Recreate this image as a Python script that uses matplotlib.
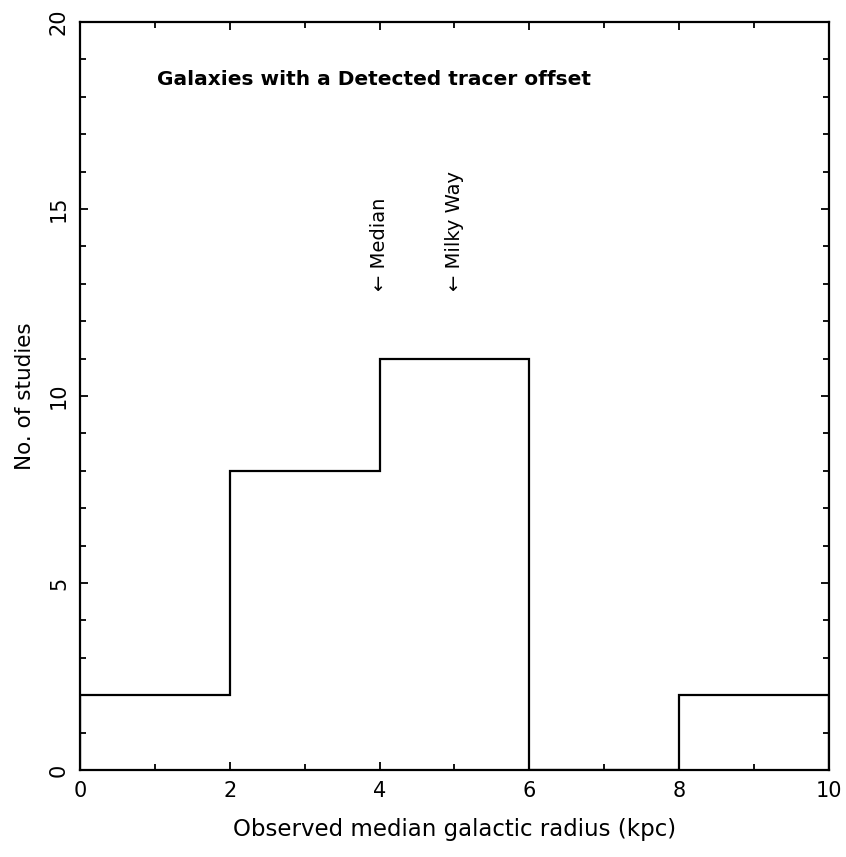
import numpy as np
import matplotlib.pyplot as plt
from matplotlib.ticker import MultipleLocator

# histogram of observed median galactic radius
bin_edges = [0, 2, 4, 6, 8, 10]
counts = [2, 8, 11, 0, 2]

marker_names = ["Median", "Milky Way"]
marker_x = [4.0, 5.0]
marker_y = 12.8

fig = plt.figure(figsize=(8.46, 8.57), dpi=100)
ax = fig.add_axes([0.0946, 0.1015, 0.885, 0.8728])

centers = [(bin_edges[i] + bin_edges[i + 1]) / 2 for i in range(len(counts))]
ax.hist(centers, bins=bin_edges, weights=counts, histtype='step', color='black', linewidth=1.6)

for name, x in zip(marker_names, marker_x):
    ax.text(x, marker_y, "\u2190 " + name, rotation=90, ha='center', va='bottom', fontsize=14)

ax.text(1.03, 18.45, "Galaxies with a Detected tracer offset", fontsize=14.5, fontweight='bold', va='center')

ax.set_xlim(0, 10)
ax.set_ylim(0, 20)
ax.xaxis.set_major_locator(MultipleLocator(2))
ax.xaxis.set_minor_locator(MultipleLocator(1))
ax.yaxis.set_major_locator(MultipleLocator(5))
ax.yaxis.set_minor_locator(MultipleLocator(1))
ax.tick_params(which='both', direction='in', top=True, right=True, width=1.3)
ax.tick_params(which='major', length=6, labelsize=15, pad=8)
ax.tick_params(which='minor', length=4)
for lbl in ax.get_yticklabels():
    lbl.set_rotation(90)
    lbl.set_va('center')
for s in ax.spines.values():
    s.set_linewidth(1.6)

ax.set_xlabel("Observed median galactic radius (kpc)", fontsize=16.5, labelpad=12)
ax.set_ylabel("No. of studies", fontsize=15.5, labelpad=10)

fig.savefig("out.png", dpi=100)
